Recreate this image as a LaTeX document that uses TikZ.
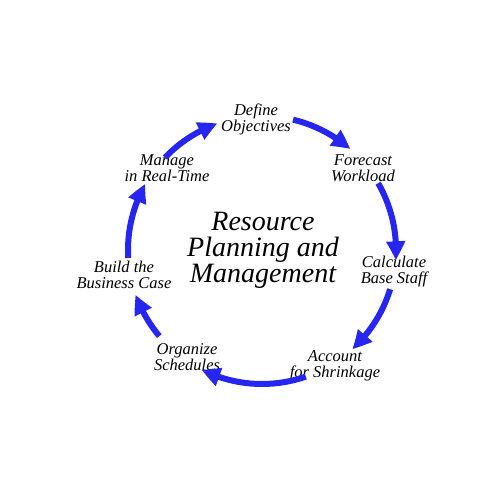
\documentclass[tikz,border=0pt]{standalone}
\usepackage{fontspec}
\setmainfont{Liberation Serif}
\usetikzlibrary{arrows.meta,bending,calc}
\definecolor{arrowblue}{RGB}{38,38,240}
\tikzset{
  lbl/.style={align=center, inner sep=0pt, font=\fontsize{16.5}{16}\selectfont\itshape},
  ttl/.style={align=center, inner sep=0pt, font=\fontsize{28}{26}\selectfont\itshape},
  cyc/.style={draw=arrowblue, line width=6pt, -{Triangle[length=19pt,width=18pt,bend]}}
}
\begin{document}
\begin{tikzpicture}[x=1pt,y=1pt]
\useasboundingbox[fill=white] (0,0) rectangle (500,500);
\coordinate (o) at (262,250);
\node[ttl] (title) at (263,250) {Resource\\Planning and\\Management};
\node[lbl] (def) at (256,381) {Define\\Objectives};
\node[lbl] (for) at (363,332) {Forecast\\Workload};
\node[lbl] (cal) at (394,228) {Calculate\\Base Staff};
\node[lbl] (acc) at (335,134) {Account\\for Shrinkage};
\node[lbl] (org) at (187,143) {Organize\\Schedules};
\node[lbl] (bui) at (124,225) {Build the\\Business Case};
\node[lbl] (man) at (167,332) {Manage\\in Real-Time};
\coordinate (s1) at ($(o)+(136.4:134)$);
\coordinate (s2) at ($(o)+(76.6:134)$);
\coordinate (s3) at ($(o)+(29.9:134)$);
\coordinate (s4) at ($(o)+(-17:134)$);
\coordinate (s5) at ($(o)+(-70.9:134)$);
\coordinate (s6) at ($(o)+(-140:134)$);
\coordinate (s7) at ($(o)+(-176.6:134)$);
\draw[cyc] (s1) arc[start angle=136.4, end angle=109.4, radius=134];
\draw[cyc] (s2) arc[start angle=76.6, end angle=48.8, radius=134];
\draw[cyc] (s3) arc[start angle=29.9, end angle=-4.4, radius=134];
\draw[cyc] (s4) arc[start angle=-17, end angle=-47.7, radius=134];
\draw[cyc] (s5) arc[start angle=-70.9, end angle=-116.8, radius=134];
\draw[cyc] (s6) arc[start angle=-140, end angle=-160.5, radius=134];
\draw[cyc] (s7) arc[start angle=-176.6, end angle=-209.5, radius=134];
\end{tikzpicture}
\end{document}
